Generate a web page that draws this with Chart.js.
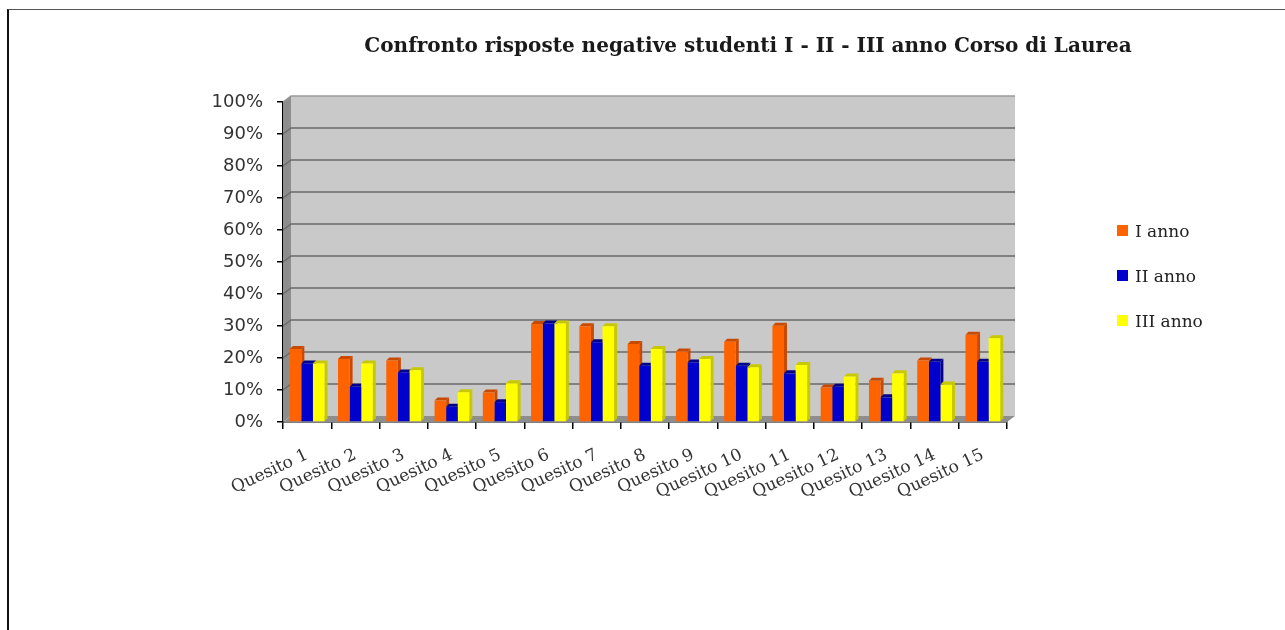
<!DOCTYPE html>
<html>
<head>
<meta charset="utf-8">
<script src="https://cdn.jsdelivr.net/npm/chart.js@4.4.0/dist/chart.umd.min.js"></script>
<style>
  html, body { margin: 0; padding: 0; background: #fff; }
  #wrap { position: relative; width: 1285px; height: 630px; overflow: hidden; background: #fff; }
  #frame { position: absolute; left: 7px; top: 9px; right: 0; bottom: 0;
           border-left: 2px solid #111; border-top: 1px solid #555; }
  #chart { position: absolute; left: 0; top: 0; }
  #title { position: absolute; left: 748px; top: 33px; transform: translateX(-50%);
           font: bold 20px "DejaVu Serif", serif; color: #1a1a1a; white-space: nowrap; }
  #legend { position: absolute; left: 1117px; top: 208px; font: 17px "DejaVu Serif", serif; color: #222; }
  .leg-item { display: flex; align-items: center; height: 45px; }
  .leg-box { width: 11px; height: 11px; margin-right: 7px; }
</style>
</head>
<body>
<div id="wrap">
  <div id="frame"></div>
  <canvas id="chart" width="1285" height="630"></canvas>
  <div id="title">Confronto risposte negative studenti I - II - III anno Corso di Laurea</div>
  <div id="legend"></div>
</div>
<script>
// ── dati ──────────────────────────────────────────
const categories = ["Quesito 1", "Quesito 2", "Quesito 3", "Quesito 4", "Quesito 5",
  "Quesito 6", "Quesito 7", "Quesito 8", "Quesito 9", "Quesito 10",
  "Quesito 11", "Quesito 12", "Quesito 13", "Quesito 14", "Quesito 15"];
const seriesNames = ["I anno", "II anno", "III anno"];
const anno1 = [22.8, 19.7, 19.2, 6.7, 9.2, 30.6, 29.9, 24.4, 22.0, 25.1, 30.1, 10.8, 12.9, 19.2, 27.3];
const anno2 = [18.3, 11.0, 15.5, 4.8, 6.2, 30.8, 24.9, 17.6, 18.6, 17.6, 15.2, 11.0, 7.7, 18.8, 18.8];
const anno3 = [18.3, 18.3, 16.2, 9.3, 12.1, 30.8, 29.9, 22.8, 19.7, 17.1, 17.8, 14.2, 15.2, 11.7, 26.2];
const yTicks = [0, 10, 20, 30, 40, 50, 60, 70, 80, 90, 100];

// ── stili ─────────────────────────────────────────
const frontColors = ["#FF6300", "#0000CC", "#FFFF00"];
const sideColors  = ["#C84A00", "#00008A", "#C8C800"];
const DX = 8, DY = -6;      // profondità pareti
const BD = 3, BDY = -3;     // profondità barre

// ── pareti 3D + griglia ───────────────────────────
const wallPlugin = {
  id: "wall3d",
  beforeDatasetsDraw(chart) {
    const { ctx, chartArea: a, scales: { y } } = chart;
    ctx.save();
    // parete di fondo
    ctx.fillStyle = "#C9C9C9";
    ctx.fillRect(a.left + DX, a.top + DY, a.right - a.left, a.bottom - a.top);
    // parete sinistra
    ctx.fillStyle = "#8E8E8E";
    ctx.beginPath();
    ctx.moveTo(a.left, a.top); ctx.lineTo(a.left + DX, a.top + DY);
    ctx.lineTo(a.left + DX, a.bottom + DY); ctx.lineTo(a.left, a.bottom);
    ctx.closePath(); ctx.fill();
    // pavimento
    ctx.beginPath();
    ctx.moveTo(a.left, a.bottom); ctx.lineTo(a.left + DX, a.bottom + DY);
    ctx.lineTo(a.right + DX, a.bottom + DY); ctx.lineTo(a.right, a.bottom);
    ctx.closePath(); ctx.fill();
    // linee griglia
    ctx.lineWidth = 1.5;
    y.ticks.forEach(t => {
      if (t.value === 0) return;
      const py = y.getPixelForValue(t.value);
      ctx.strokeStyle = t.value === 100 ? "#9A9A9A" : "#6A6A6A";
      ctx.beginPath();
      ctx.moveTo(a.left, py);
      ctx.lineTo(a.left + DX, py + DY);
      ctx.lineTo(a.right + DX, py + DY);
      ctx.stroke();
    });
    // lati e coperchi delle barre
    chart.data.datasets.forEach((ds, i) => {
      const meta = chart.getDatasetMeta(i);
      meta.data.forEach(el => {
        const { x, y: top, base, width } = el.getProps(["x", "y", "base", "width"], true);
        const l = x - width / 2, r = x + width / 2;
        ctx.fillStyle = sideColors[i];
        ctx.beginPath();
        ctx.moveTo(r, top); ctx.lineTo(r + BD, top + BDY);
        ctx.lineTo(r + BD, base + BDY); ctx.lineTo(r, base);
        ctx.closePath(); ctx.fill();
        ctx.beginPath();
        ctx.moveTo(l, top); ctx.lineTo(l + BD, top + BDY);
        ctx.lineTo(r + BD, top + BDY); ctx.lineTo(r, top);
        ctx.closePath(); ctx.fill();
      });
    });
    ctx.restore();
  },
};

const datasets = [anno1, anno2, anno3].map((vals, i) => ({
  label: seriesNames[i],
  data: vals,
  backgroundColor: frontColors[i],
  borderWidth: 0,
  barPercentage: 1.0,
  categoryPercentage: 0.72,
}));

new Chart(document.getElementById("chart"), {
  type: "bar",
  data: { labels: categories, datasets },
  options: {
    responsive: false,
    animation: false,
    layout: { padding: { left: 203, right: 278, top: 102, bottom: 88 } },
    plugins: { legend: { display: false }, title: { display: false }, tooltip: { enabled: false } },
    scales: {
      x: {
        offset: true,
        afterFit(s) { s.height = 120; },
        grid: { offset: true, drawOnChartArea: false, drawTicks: true, tickLength: 7, color: "#000", lineWidth: 1.5 },
        border: { display: true, color: "#000", width: 1.5 },
        ticks: {
          autoSkip: false, minRotation: 25, maxRotation: 25, padding: 16,
          color: "#333", font: { family: "DejaVu Serif", size: 17 },
        },
      },
      y: {
        min: 0, max: 100,
        afterFit(s) { s.width = 80; },
        afterBuildTicks(s) { s.ticks = yTicks.map(v => ({ value: v })); },
        grid: { drawOnChartArea: false, drawTicks: true, tickLength: 6, color: "#000", lineWidth: 1.5 },
        border: { display: true, color: "#000", width: 1.5 },
        ticks: {
          padding: 14, color: "#333",
          font: { family: "DejaVu Sans", size: 18 },
          callback: v => v + "%",
        },
      },
    },
  },
  plugins: [wallPlugin],
});

// ── legenda ───────────────────────────────────────
document.getElementById("legend").innerHTML = seriesNames.map((n, i) =>
  `<div class="leg-item"><span class="leg-box" style="background:${frontColors[i]}"></span>${n}</div>`
).join("");
</script>
</body>
</html>
